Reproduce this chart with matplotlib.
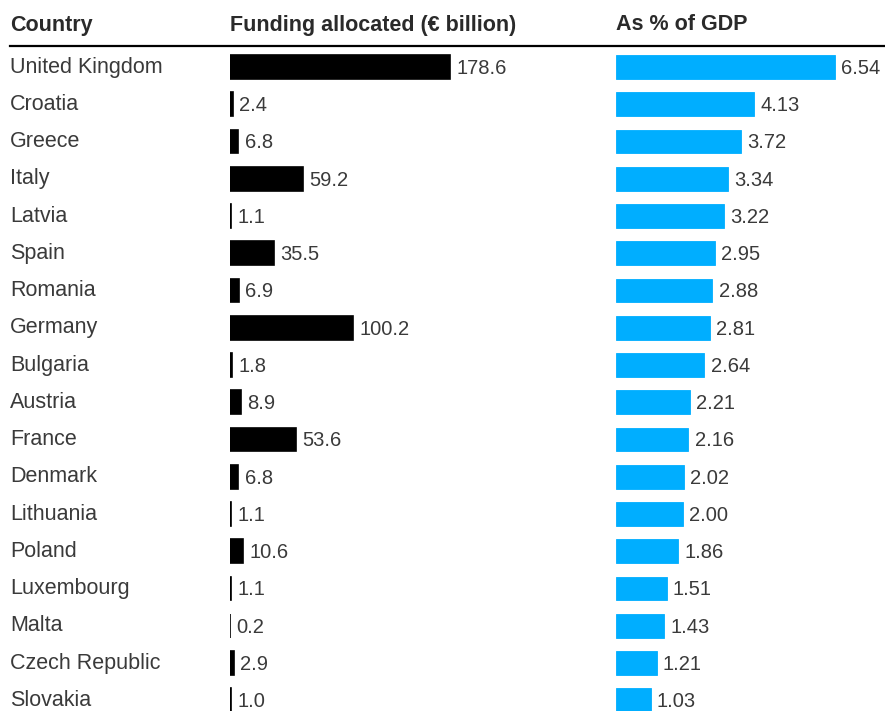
import matplotlib
matplotlib.use("Agg")
import matplotlib.pyplot as plt
from matplotlib.transforms import blended_transform_factory, offset_copy

plt.rcParams['font.family'] = ['Liberation Sans', 'DejaVu Sans']

countries = ["United Kingdom", "Croatia", "Greece", "Italy", "Latvia", "Spain",
             "Romania", "Germany", "Bulgaria", "Austria", "France", "Denmark",
             "Lithuania", "Poland", "Luxembourg", "Malta", "Czech Republic", "Slovakia"]
funding = [178.6, 2.4, 6.8, 59.2, 1.1, 35.5, 6.9, 100.2, 1.8, 8.9, 53.6, 6.8,
           1.1, 10.6, 1.1, 0.2, 2.9, 1.0]
gdp_share = [6.54, 4.13, 3.72, 3.34, 3.22, 2.95, 2.88, 2.81, 2.64, 2.21, 2.16,
             2.02, 2.00, 1.86, 1.51, 1.43, 1.21, 1.03]
headers = ["Country", "Funding allocated (€ billion)", "As % of GDP"]

W, H = 885, 711
fig = plt.figure(figsize=(W / 100, H / 100), dpi=100)

row0, step = 67, 37.25
top_px = row0 - step / 2
y_bottom = (H - row0) / step
ax_h = 1 - top_px / H

# funding axis: 0 at x=230px, 1.232 px per billion
ax1 = fig.add_axes([230 / W, 0, 300 * 1.232 / W, ax_h])
ax1.set_xlim(0, 300)
# gdp axis: 0 at x=616px, 33.5 px per percent
ax2 = fig.add_axes([616 / W, 0, 8 * 33.5 / W, ax_h])
ax2.set_xlim(0, 8)

ypos = list(range(len(countries)))
txt = "#3a3a3a"
for ax, vals, col, lw, fmt in [(ax1, funding, "black", 1.2, "{:.1f}"),
                               (ax2, gdp_share, "#00aeff", 0.6, "{:.2f}")]:
    ax.barh(ypos, vals, height=0.64, color=col, edgecolor=col, linewidth=lw)
    ax.set_ylim(y_bottom, -0.5)
    ax.axis("off")
    for y, v in zip(ypos, vals):
        ax.annotate(fmt.format(v), (v, y), xytext=(4.5, -1), textcoords="offset points",
                    va="center", ha="left", fontsize=14.5, color=txt)

tr = blended_transform_factory(fig.transFigure, ax1.transData)
tr = offset_copy(tr, fig=fig, y=0, units="points")
for y, c in zip(ypos, countries):
    fig.text(10 / W, y, c, transform=tr, va="center", ha="left",
             fontsize=15.5, color=txt)

for x, h in zip([10, 230, 616], headers):
    fig.text(x / W, 1 - 25 / H, h, va="center", ha="left", fontsize=15.5,
             fontweight="bold", color="#2a2a2a")

fig.add_artist(plt.Line2D([10 / W, 1], [1 - 46 / H] * 2, transform=fig.transFigure,
                          color="black", linewidth=1.6))

fig.savefig("out.png", dpi=100)
